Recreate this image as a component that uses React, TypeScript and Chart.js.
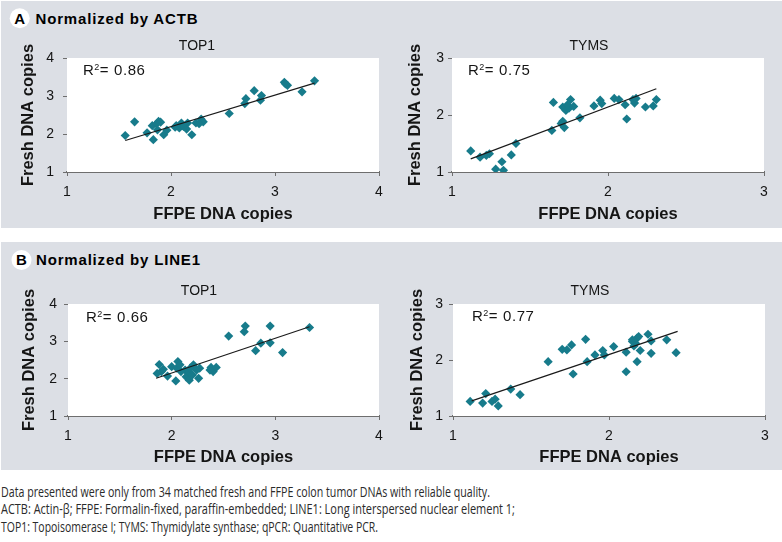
import React, { useEffect, useRef } from "react";
import { Chart, registerables } from "chart.js";

Chart.register(...registerables);

const FONT = "'Liberation Sans', Arial, Helvetica, sans-serif";
const POINT_COLOR = "#177b8b";
const AXIS_COLOR = "#6e6e6e";
const TEXT_COLOR = "#151515";
const PANEL_BG = "#dcdfe5";

// ---- Panel A: normalized by ACTB ----
const actbTop1Ffpe = [1.56, 1.65, 1.77, 1.83, 1.82, 1.86, 1.88, 1.90, 1.93, 1.96, 2.04, 2.08, 2.10, 2.12, 2.15, 2.16, 2.20, 2.24, 2.29, 2.31, 2.56, 2.71, 2.72, 2.80, 2.86, 2.87, 3.09, 3.12, 3.26, 3.38, 1.87, 2.05, 2.27, 3.10];
const actbTop1Fresh = [1.96, 2.32, 2.03, 1.85, 2.22, 2.27, 2.33, 2.31, 1.98, 2.10, 2.18, 2.16, 2.29, 2.20, 2.13, 2.29, 1.98, 2.29, 2.39, 2.32, 2.54, 2.80, 2.93, 3.14, 2.89, 3.01, 3.36, 3.28, 3.11, 3.40, 2.11, 2.22, 2.27, 3.32];
const actbTop1TrendX = [1.56, 3.38];
const actbTop1TrendY = [1.83, 3.34];

const actbTymsFfpe = [1.12, 1.18, 1.22, 1.24, 1.28, 1.32, 1.33, 1.38, 1.41, 1.64, 1.65, 1.70, 1.71, 1.72, 1.71, 1.73, 1.75, 1.76, 1.78, 1.74, 1.82, 1.91, 1.95, 1.96, 2.04, 2.07, 2.11, 2.12, 2.17, 2.18, 2.24, 2.29, 2.31, 2.16];
const actbTymsFresh = [1.37, 1.26, 1.29, 1.32, 1.05, 1.18, 1.03, 1.30, 1.50, 1.73, 2.22, 1.85, 1.89, 1.78, 2.14, 2.08, 2.12, 2.27, 2.15, 2.18, 1.95, 2.16, 2.26, 2.20, 2.29, 2.27, 2.18, 1.93, 2.21, 2.29, 2.14, 2.16, 2.27, 2.27];
const actbTymsTrendX = [1.12, 2.31];
const actbTymsTrendY = [1.23, 2.46];

// ---- Panel B: normalized by LINE1 ----
const line1Top1Ffpe = [1.86, 1.88, 1.90, 1.96, 2.00, 2.04, 2.05, 2.06, 2.08, 2.13, 2.14, 2.16, 2.17, 2.18, 2.20, 2.21, 2.26, 2.27, 2.38, 2.40, 2.43, 2.55, 2.70, 2.71, 2.81, 2.86, 2.95, 2.95, 3.07, 3.33, 2.09, 2.24, 2.37, 1.92];
const line1Top1Fresh = [2.14, 2.38, 2.19, 2.07, 2.32, 1.94, 2.28, 2.46, 2.37, 2.23, 2.05, 2.19, 1.96, 2.28, 2.10, 2.37, 2.01, 2.28, 2.30, 2.19, 2.30, 3.14, 3.26, 3.41, 2.75, 2.95, 2.96, 3.41, 2.70, 3.37, 2.19, 2.23, 2.23, 2.25];
const line1Top1TrendX = [1.85, 3.33];
const line1Top1TrendY = [2.01, 3.39];

const line1TymsFfpe = [1.11, 1.19, 1.21, 1.25, 1.27, 1.29, 1.37, 1.43, 1.61, 1.70, 1.73, 1.76, 1.77, 1.85, 1.86, 1.91, 1.96, 1.97, 2.03, 2.11, 2.11, 2.15, 2.16, 2.18, 2.18, 2.19, 2.20, 2.25, 2.27, 2.27, 2.37, 2.43, 2.17, 2.15];
const line1TymsFresh = [1.26, 1.23, 1.40, 1.26, 1.30, 1.18, 1.48, 1.38, 1.97, 2.19, 2.18, 2.27, 1.75, 2.37, 1.97, 2.09, 2.17, 2.09, 2.24, 2.14, 1.79, 2.33, 2.25, 1.97, 2.39, 2.42, 2.17, 2.46, 2.12, 2.34, 2.36, 2.13, 2.30, 2.36];
const line1TymsTrendX = [1.12, 2.44];
const line1TymsTrendY = [1.27, 2.51];

const top1Range = [1, 4];
const tymsRange = [1, 3];

const r2Values = ["0.86", "0.75", "0.66", "0.77"];
const geneTitles = ["TOP1", "TYMS", "TOP1", "TYMS"];
const xAxisTitle = "FFPE DNA copies";
const yAxisTitle = "Fresh DNA copies";
const panelHeaders = ["Normalized by ACTB", "Normalized by LINE1"];
const panelLetters = ["A", "B"];
const captionLines = [
  "Data presented were only from 34 matched fresh and FFPE colon tumor DNAs with reliable quality.",
  "ACTB: Actin-\u03b2; FFPE: Formalin-fixed, paraffin-embedded; LINE1: Long interspersed nuclear element 1;",
  "TOP1: Topoisomerase I; TYMS: Thymidylate synthase; qPCR: Quantitative PCR.",
];

type Cfg = {
  xs: number[];
  ys: number[];
  tx: number[];
  ty: number[];
  range: number[];
  title: string;
  r2: string;
  left: number;
  top: number;
  plotTop: number;
  padRight: number;
  yAxisW: number;
  xAxisH: number;
  yTickPad: number;
  yTitlePad: number;
  xTitlePad: number;
  titleX: number;
  titleY: number;
  r2dx: number;
  r2dy: number;
};

const W = 391;
const H = 198;

const charts: Cfg[] = [
  { xs: actbTop1Ffpe, ys: actbTop1Fresh, tx: actbTop1TrendX, ty: actbTop1TrendY, range: top1Range, title: geneTitles[0], r2: r2Values[0],
    left: 0, top: 30, plotTop: 28, padRight: 12, yAxisW: 67, xAxisH: 56, yTickPad: 9, yTitlePad: 19, xTitlePad: 4, titleX: 197, titleY: 20, r2dx: 16, r2dy: 17 },
  { xs: actbTymsFfpe, ys: actbTymsFresh, tx: actbTymsTrendX, ty: actbTymsTrendY, range: tymsRange, title: geneTitles[1], r2: r2Values[1],
    left: 391, top: 30, plotTop: 28, padRight: 18, yAxisW: 61, xAxisH: 56, yTickPad: 4, yTitlePad: 14.5, xTitlePad: 4, titleX: 198, titleY: 20, r2dx: 16, r2dy: 17 },
  { xs: line1Top1Ffpe, ys: line1Top1Fresh, tx: line1Top1TrendX, ty: line1Top1TrendY, range: top1Range, title: geneTitles[2], r2: r2Values[2],
    left: 0, top: 272, plotTop: 32, padRight: 12, yAxisW: 68, xAxisH: 54, yTickPad: 7, yTitlePad: 19.5, xTitlePad: 3, titleX: 199, titleY: 23, r2dx: 18, r2dy: 18 },
  { xs: line1TymsFfpe, ys: line1TymsFresh, tx: line1TymsTrendX, ty: line1TymsTrendY, range: tymsRange, title: geneTitles[3], r2: r2Values[3],
    left: 391, top: 272, plotTop: 32, padRight: 17, yAxisW: 62, xAxisH: 54, yTickPad: 6, yTitlePad: 16.5, xTitlePad: 3, titleX: 199, titleY: 23, r2dx: 19, r2dy: 17 },
];

function ScatterPanel({ cfg }: { cfg: Cfg }) {
  const ref = useRef<HTMLCanvasElement | null>(null);
  useEffect(() => {
    if (!ref.current) return;
    const decor = {
      id: "decor",
      beforeDatasetsDraw(chart: any) {
        const { ctx, chartArea } = chart;
        ctx.save();
        ctx.fillStyle = "#ffffff";
        ctx.fillRect(chartArea.left, chartArea.top, chartArea.right - chartArea.left, chartArea.bottom - chartArea.top);
        ctx.restore();
      },
      afterDraw(chart: any) {
        const { ctx, chartArea } = chart;
        ctx.save();
        ctx.fillStyle = TEXT_COLOR;
        ctx.font = `14px ${FONT}`;
        ctx.textBaseline = "alphabetic";
        ctx.textAlign = "center";
        ctx.fillText(cfg.title, cfg.titleX, cfg.titleY);
        // R² label: R, superscript 2, "= value"
        ctx.textAlign = "left";
        let x = chartArea.left + cfg.r2dx;
        const y = chartArea.top + cfg.r2dy;
        ctx.font = `15px ${FONT}`;
        ctx.fillText("R", x, y);
        x += ctx.measureText("R").width;
        ctx.font = `9px ${FONT}`;
        ctx.fillText("2", x + 0.5, y - 5.5);
        x += ctx.measureText("2").width + 1;
        ctx.font = `15px ${FONT}`;
        try { (ctx as any).letterSpacing = "0.6px"; } catch (e) {}
        ctx.fillText("= " + cfg.r2, x, y);
        ctx.restore();
      },
    };
    const chart = new Chart(ref.current, {
      type: "scatter",
      data: {
        datasets: [
          {
            data: cfg.tx.map((x, i) => ({ x, y: cfg.ty[i] })),
            showLine: true,
            borderColor: "#1a1a1a",
            borderWidth: 1.2,
            pointRadius: 0,
            fill: false,
          } as any,
          {
            data: cfg.xs.map((x, i) => ({ x, y: cfg.ys[i] })),
            pointStyle: "rectRot",
            pointRadius: 4.6,
            backgroundColor: POINT_COLOR,
            borderColor: POINT_COLOR,
            borderWidth: 0,
          } as any,
        ],
      },
      options: {
        responsive: false,
        animation: false,
        events: [],
        layout: { padding: { left: 0, top: cfg.plotTop, right: cfg.padRight, bottom: 0 } },
        plugins: { legend: { display: false }, tooltip: { enabled: false }, title: { display: false } },
        scales: {
          x: {
            type: "linear",
            min: cfg.range[0],
            max: cfg.range[1],
            ticks: { stepSize: 1, padding: 7.5, color: TEXT_COLOR, font: { family: FONT, size: 14 }, maxRotation: 0, autoSkip: false },
            grid: { drawOnChartArea: false, drawTicks: true, tickLength: 4, color: AXIS_COLOR, lineWidth: 1 },
            border: { display: true, color: AXIS_COLOR, width: 2 },
            title: { display: true, text: xAxisTitle, color: TEXT_COLOR, font: { family: FONT, size: 16.5, weight: "bold" }, padding: { top: 0, bottom: cfg.xTitlePad } },
            afterFit: (s: any) => { s.height = cfg.xAxisH; },
          },
          y: {
            type: "linear",
            min: cfg.range[0],
            max: cfg.range[1],
            ticks: { stepSize: 1, padding: cfg.yTickPad, color: TEXT_COLOR, font: { family: FONT, size: 14 }, autoSkip: false },
            grid: { drawOnChartArea: false, drawTicks: true, tickLength: 4, color: AXIS_COLOR, lineWidth: 1 },
            border: { display: true, color: AXIS_COLOR, width: 1 },
            title: { display: true, text: yAxisTitle, color: TEXT_COLOR, font: { family: FONT, size: 16.5, weight: "bold" }, padding: { top: cfg.yTitlePad, bottom: 0 } },
            afterFit: (s: any) => { s.width = cfg.yAxisW; },
          },
        },
      } as any,
      plugins: [decor],
    });
    return () => chart.destroy();
  }, [cfg]);
  return (
    <canvas
      ref={ref}
      width={W}
      height={H}
      style={{ position: "absolute", left: cfg.left, top: cfg.top, width: W, height: H }}
    />
  );
}

export default function App() {
  const headerFont = { fontFamily: FONT, fontWeight: 700, fontSize: 15 } as const;
  const captionFont = { fontFamily: "'Open Sans', sans-serif", fontSize: 14.5 } as const;
  return (
    <div style={{ position: "absolute", left: 0, top: 0, width: 782, height: 542, background: "#ffffff", overflow: "hidden" }}>
      <svg width={782} height={542} style={{ position: "absolute", left: 0, top: 0 }}>
        <rect x={1} y={1} width={781} height={227} fill={PANEL_BG} />
        <rect x={1} y={242} width={781} height={228} fill={PANEL_BG} />
        <circle cx={19.7} cy={18.3} r={10} fill="#ffffff" />
        <text x={19.7} y={23.6} textAnchor="middle" fill="#000" style={headerFont}>{panelLetters[0]}</text>
        <text x={35.5} y={24} fill="#000" textLength={162} lengthAdjust="spacing" style={headerFont}>{panelHeaders[0]}</text>
        <circle cx={21.5} cy={260} r={10} fill="#ffffff" />
        <text x={21.5} y={265.3} textAnchor="middle" fill="#000" style={headerFont}>{panelLetters[1]}</text>
        <text x={36} y={265} fill="#000" textLength={164} lengthAdjust="spacing" style={headerFont}>{panelHeaders[1]}</text>
        <text x={1} y={496.7} textLength={489} lengthAdjust="spacingAndGlyphs" fill="#2a2a2a" style={captionFont}>{captionLines[0]}</text>
        <text x={1} y={514} textLength={514} lengthAdjust="spacingAndGlyphs" fill="#2a2a2a" style={captionFont}>{captionLines[1]}</text>
        <text x={1} y={531.7} textLength={377} lengthAdjust="spacingAndGlyphs" fill="#2a2a2a" style={captionFont}>{captionLines[2]}</text>
      </svg>
      {charts.map((c, i) => (
        <ScatterPanel key={i} cfg={c} />
      ))}
    </div>
  );
}
